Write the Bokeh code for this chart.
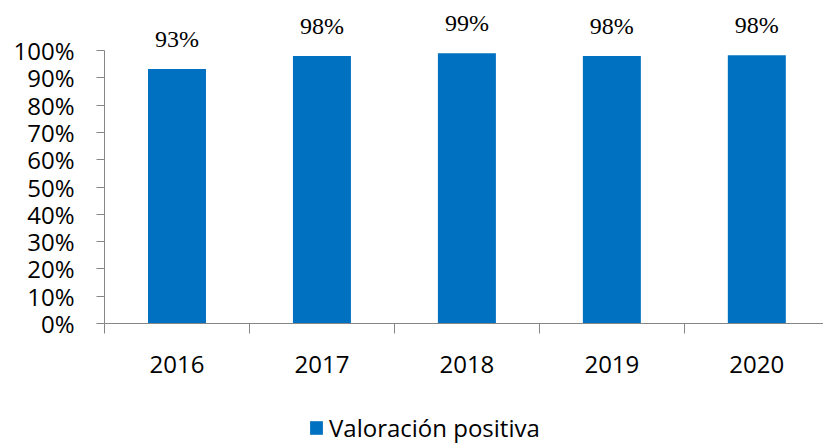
from bokeh.plotting import figure
from bokeh.layouts import column
from bokeh.models import (ColumnDataSource, Range1d, FixedTicker, NumeralTickFormatter,
                          LabelSet, Legend, LegendItem)
from bokeh.embed import file_html
from bokeh.resources import INLINE

years = ["2016", "2017", "2018", "2019", "2020"]
values = [0.932, 0.98, 0.99, 0.98, 0.983]
labels = ["93%", "98%", "99%", "98%", "98%"]
series_name = "Valoración positiva"

FONT = "Open Sans"
BLUE = "#0070C0"
GRAY = "#868686"

xs = [i + 0.5 for i in range(len(years))]
src = ColumnDataSource(dict(x=xs, top=values, label=labels))

p = figure(width=823, height=400, output_backend="svg", toolbar_location=None,
           x_range=Range1d(0, 4.96), y_range=Range1d(0, 323 / 273),
           min_border_left=104, min_border_right=0, min_border_top=0,
           min_border_bottom=77)
p.outline_line_color = None
p.xgrid.visible = False
p.ygrid.visible = False

r = p.vbar(x="x", top="top", width=0.4, bottom=0, source=src,
           fill_color=BLUE, line_color=None)

p.add_layout(LabelSet(x="x", y="top", text="label", source=src,
                      text_align="center", text_baseline="alphabetic", y_offset=22,
                      text_font=FONT, text_font_size="24px", text_color="black"))

# x axis: labels at category centres, tick marks at category boundaries
xa = p.xaxis[0]
xa.ticker = FixedTicker(ticks=xs, minor_ticks=list(range(len(years) + 1)))
xa.major_label_overrides = {x: y for x, y in zip(xs, years)}
xa.major_tick_line_color = None
xa.major_tick_out = 0
xa.major_tick_in = 0
xa.minor_tick_line_color = GRAY
xa.minor_tick_out = 10
xa.minor_tick_in = 0
xa.axis_line_color = GRAY
xa.major_label_text_font = FONT
xa.major_label_text_font_size = "24px"
xa.major_label_text_color = "black"
xa.major_label_standoff = 22

ya = p.yaxis[0]
ya.ticker = FixedTicker(ticks=[i / 10 for i in range(11)], minor_ticks=[])
ya.formatter = NumeralTickFormatter(format="0%")
ya.bounds = (0, 1)
ya.major_tick_line_color = GRAY
ya.major_tick_out = 8
ya.major_tick_in = 0
ya.axis_line_color = GRAY
ya.major_label_text_font = FONT
ya.major_label_text_font_size = "24px"
ya.major_label_text_color = "black"
ya.major_label_standoff = 22

# legend strip below the chart (frame aligned with the chart's frame)
lg = figure(width=823, height=44, output_backend="svg", toolbar_location=None,
            x_range=Range1d(0, 4.96), y_range=Range1d(0, 1),
            min_border_left=104, min_border_right=0, min_border_top=0,
            min_border_bottom=0)
lg.outline_line_color = None
lg.axis.visible = False
lg.grid.visible = False
proxy = lg.vbar(x="x", top="top", width=0.4, source=src,
                fill_color=BLUE, line_color=None, visible=False)

legend = Legend(items=[LegendItem(label=series_name, renderers=[proxy])],
                location=(204, 0), orientation="horizontal",
                padding=0, margin=0, spacing=0,
                glyph_width=16, glyph_height=17, label_height=17,
                label_standoff=5, label_text_font=FONT, label_text_font_size="24px",
                label_text_color="black", border_line_color=None,
                background_fill_alpha=0, inactive_fill_alpha=0)
lg.add_layout(legend, "center")

layout = column(p, lg, spacing=0)
open("out.html", "w").write(file_html(layout, INLINE))
